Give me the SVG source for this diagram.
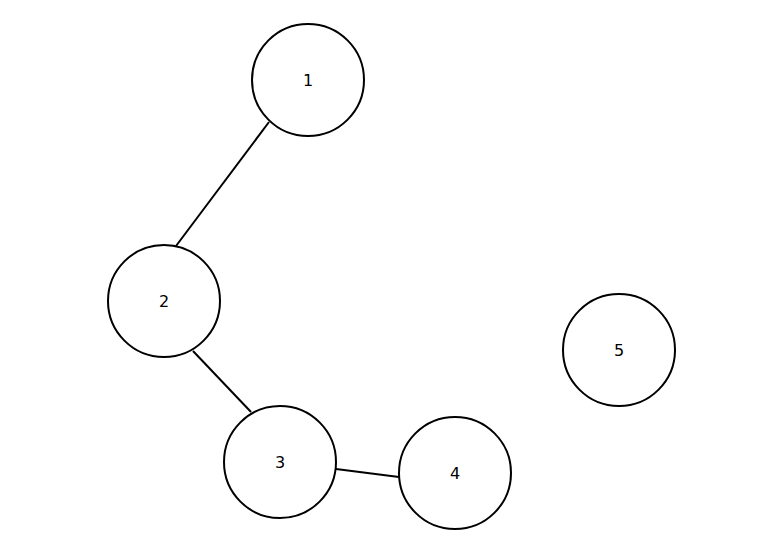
<svg xmlns="http://www.w3.org/2000/svg" width="757" height="557" viewBox="0 0 757 557">
<style>
.n circle{fill:#fff;stroke:#000;stroke-width:2}
.n text{font-family:"DejaVu Sans",sans-serif;font-size:16px;text-anchor:middle;dominant-baseline:central}
.e line{stroke:#000;stroke-width:2}
</style>
<rect width="757" height="557" fill="#fff"/>
<g class="e">
<line x1="269" y1="122" x2="176" y2="246"/>
<line x1="193" y1="351" x2="251" y2="412"/>
<line x1="336" y1="469" x2="399" y2="477"/>
</g>
<g id="n1" class="n"><circle cx="308" cy="80" r="56"/><text x="308" y="80">1</text></g>
<g id="n2" class="n"><circle cx="164" cy="301" r="56"/><text x="164" y="301">2</text></g>
<g id="n3" class="n"><circle cx="280" cy="462" r="56"/><text x="280" y="462">3</text></g>
<g id="n4" class="n"><circle cx="455" cy="473" r="56"/><text x="455" y="473">4</text></g>
<g id="n5" class="n"><circle cx="619" cy="350" r="56"/><text x="619" y="350">5</text></g>
</svg>
